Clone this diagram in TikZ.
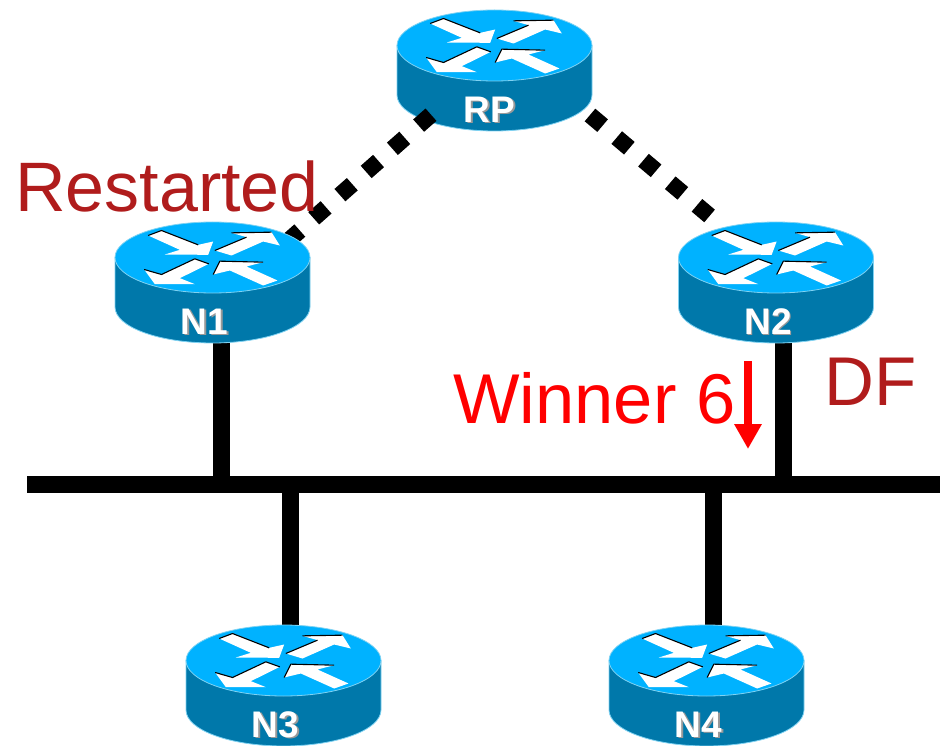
\documentclass[tikz,border=0pt]{standalone}
\usepackage{fontspec}
\setmainfont{Liberation Sans}
\usetikzlibrary{arrows.meta}
\definecolor{rtop}{HTML}{00B2FF}
\definecolor{rside}{HTML}{0078AA}
\definecolor{redge}{HTML}{7FD2F2}
\definecolor{dred}{HTML}{B01C1C}
\tikzset{
  routerbox/.style={minimum width=195pt,minimum height=121pt,inner sep=0pt,outer sep=0pt},
  rtlabel/.style={font=\bfseries\fontsize{37}{37}\selectfont,text=white,inner sep=0pt},
  rtshadow/.style={font=\bfseries\fontsize{37}{37}\selectfont,text=black!40,inner sep=0pt},
  biglabel/.style={font=\fontsize{69}{69}\selectfont,inner sep=0pt,anchor=base west},
  link/.style={line width=17pt,black},
  dotlink/.style={line width=16.5pt,black,dash pattern=on 16.5pt off 18.5pt},
  arrowshape/.style={fill=white,draw=none},
  arrowedge/.style={draw=black,line width=1.1pt,line join=round},
}
% #1 node name, #2 label, #3 horizontal offset of the label
\newcommand{\router}[3]{%
  \begin{scope}[shift={(#1.center)}]
    \path[fill=rside,draw=redge,line width=.8pt]
      (-97.5,-25) -- (-97.5,24.5) arc[start angle=180,end angle=0,x radius=97.5,y radius=36]
      -- (97.5,-25) -- cycle;
    \path[fill=rtop,draw=redge,line width=.8pt] (0,-25) ellipse[x radius=97.5,y radius=35.5];
    \begin{scope}[shift={(0,-25)},x=.3333pt,y=-.3333pt]
      \fill[arrowshape] (-193,-66)--(-153,-81)--(-43,-38)--(2,-48)--(-13,-8)--(-143,-9)--(-98,-23)--cycle;
      \fill[arrowshape] (7,-21)--(102,-61)--(57,-74)--(177,-76)--(202,-36)--(152,-48)--(57,-6)--cycle;
      \fill[arrowshape] (-153,51)--(-53,4)--(-11,19)--(-98,62)--(-53,80)--(-173,80)--(-205,36)--cycle;
      \fill[arrowshape] (2,51)--(22,11)--(152,14)--(102,27)--(195,69)--(152,84)--(52,39)--cycle;
      \draw[arrowedge] (-193,-66)--(-153,-81)--(-43,-38);
      \draw[arrowedge] (7,-21)--(102,-61) (57,-74)--(177,-76);
      \draw[arrowedge] (-205,36)--(-153,51)--(-53,4)--(-11,19);
      \draw[arrowedge] (2,51)--(22,11)--(152,14);
    \end{scope}
    \node[rtshadow] at (#3+1.5,40.5) {#2};
    \node[rtlabel] (#1label) at (#3,39) {#2};
  \end{scope}
}
\begin{document}
\begin{tikzpicture}[x=1pt,y=-1pt]
\useasboundingbox (0,0) rectangle (940,746);
\node[routerbox] (RP) at (494.5,70.5) {};
\node[routerbox] (N1) at (212.5,282.5) {};
\node[routerbox] (N2) at (776,282.5) {};
\node[routerbox] (N3) at (283.5,685.5) {};
\node[routerbox] (N4) at (706.5,685.5) {};
\coordinate (busL) at (27,484.5);
\coordinate (busR) at (940,484.5);
\coordinate (rpL) at (431,114.7);
\coordinate (n1R) at (288,241);
\coordinate (rpR) at (590,115);
\coordinate (n2L) at (712,218);
\coordinate (wTop) at (748,361);
\coordinate (wTip) at (748,449);
\draw[link] (busL) -- (busR);
\draw[link] ([xshift=8.5pt]N1.south) -- ([xshift=8.5pt]N1.south |- busL);
\draw[link] ([xshift=7.5pt]N2.south) -- ([xshift=7.5pt]N2.south |- busL);
\draw[link] ([xshift=6.5pt]N3.north) -- ([xshift=6.5pt]N3.north |- busL);
\draw[link] ([xshift=6.5pt]N4.north) -- ([xshift=6.5pt]N4.north |- busL);
\router{RP}{RP}{-5}
\draw[dotlink] (rpL) -- (n1R);
\draw[dotlink] (rpR) -- (n2L);
\router{N1}{N1}{-8}
\router{N2}{N2}{-8}
\router{N3}{N3}{-8}
\router{N4}{N4}{-8}
\node[biglabel,text=dred,font=\fontsize{70}{70}\selectfont] (restarted) at (15,212) {Restarted};
\node[biglabel,text=red,font=\fontsize{70.5}{70}\selectfont] (winner) at (453,423) {Winner 6};
\node[biglabel,text=dred] (df) at (824,405) {DF};
\draw[-{Triangle[width=26pt,length=25pt]},line width=8pt,red] (wTop) -- (wTip);
\end{tikzpicture}
\end{document}
